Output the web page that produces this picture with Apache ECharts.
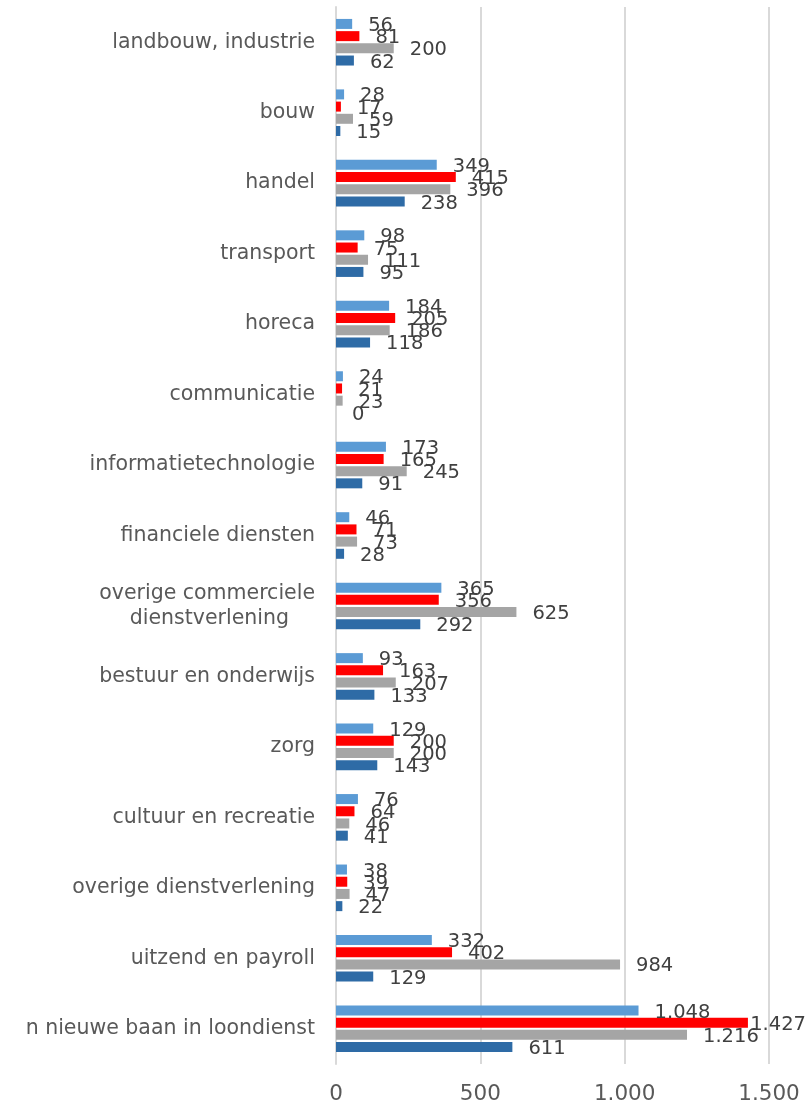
<!DOCTYPE html>
<html><head><meta charset="utf-8">
<script src="https://cdn.jsdelivr.net/npm/echarts@6/dist/echarts.min.js"></script>
<style>html,body{margin:0;padding:0;background:#fff}#c{width:810px;height:1105px}</style>
</head><body><div id="c"></div>
<script>
const categories = ["landbouw, industrie","bouw","handel","transport","horeca","communicatie","informatietechnologie","financiele diensten","overige commerciele\ndienstverlening    ","bestuur en onderwijs","zorg","cultuur en recreatie","overige dienstverlening","uitzend en payroll","n nieuwe baan in loondienst"];
const seriesA = [56,28,349,98,184,24,173,46,365,93,129,76,38,332,1048];
const seriesB = [81,17,415,75,205,21,165,71,356,163,200,64,39,402,1427];
const seriesC = [200,59,396,111,186,23,245,73,625,207,200,46,47,984,1216];
const seriesD = [62,15,238,95,118,0,91,28,292,133,143,41,22,129,611];
const xTicks = [0,500,1000,1500];

const fmt = v => String(v).replace(/\B(?=(\d{3})+(?!\d))/g, '.');
const font = '"DejaVu Sans", Verdana, sans-serif';
const colors = ['#5B9BD5','#FF0000','#A5A5A5','#2E6BA6'];
const mk = (d,i) => ({
  type:'bar', data:d, barWidth:10, barGap:'22%',
  itemStyle:{color:colors[i]},
  label:{show:true, position:'right', distance:16, formatter:p=>fmt(p.value), color:'#404040', fontSize:19.5, fontFamily:font},
  labelLayout:function(p){
    const r = p.labelRect; const over = r.x + r.width - 806;
    return {dx: over > 0 ? -over : 0, dy: 2};
  },
  animation:false
});
const chart = echarts.init(document.getElementById('c'));
chart.setOption({
  animation:false,
  grid:{left:336,right:41,top:7,bottom:40,containLabel:false},
  xAxis:{type:'value',min:xTicks[0],max:xTicks[xTicks.length-1],interval:500,
    axisLabel:{formatter:v=>fmt(v),fontSize:21.5,color:'#595959',fontFamily:font,margin:19},
    splitLine:{lineStyle:{color:'#D9D9D9',width:2}},
    axisLine:{show:false},axisTick:{show:false}},
  yAxis:{type:'category',data:categories,inverse:true,
    axisLabel:{fontSize:20.5,color:'#595959',fontFamily:font,margin:21,lineHeight:25},
    axisLine:{lineStyle:{color:'#D9D9D9',width:2}},axisTick:{show:false}},
  series:[mk(seriesA,0),mk(seriesB,1),mk(seriesC,2),mk(seriesD,3)]
});
</script></body></html>
